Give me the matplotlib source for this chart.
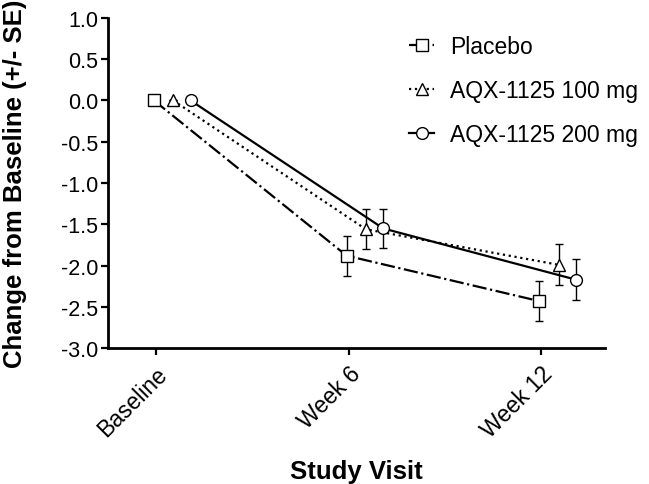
import matplotlib
matplotlib.use("Agg")
import matplotlib.pyplot as plt
import numpy as np

plt.rcParams["font.family"] = ["Liberation Sans", "DejaVu Sans"]

# ── data ───────────────────────────────────────────────────────────────────
visits = ["Baseline", "Week 6", "Week 12"]
groups = ["Placebo", "AQX-1125 100 mg", "AQX-1125 200 mg"]

placebo_mean = [0.0, -1.88, -2.43]
placebo_se = [0.0, 0.24, 0.24]
dose100_mean = [0.0, -1.56, -1.99]
dose100_se = [0.0, 0.24, 0.25]
dose200_mean = [0.0, -1.55, -2.17]
dose200_se = [0.0, 0.24, 0.25]

means = [placebo_mean, dose100_mean, dose200_mean]
ses = [placebo_se, dose100_se, dose200_se]

# ── style ──────────────────────────────────────────────────────────────────
INK = "black"
offsets = [-0.01, 0.09, 0.18]
markers = ["s", "^", "o"]
linestyles = ["-.", ":", "-"]
msizes = [8, 8, 8.5]

fig = plt.figure(figsize=(6.49, 4.85), dpi=100)
ax = fig.add_axes([0.166, 0.280, 0.766, 0.681])

x = np.arange(len(visits))
for i, name in enumerate(groups):
    ax.errorbar(x + offsets[i], means[i], yerr=ses[i],
                color=INK, linestyle=linestyles[i], linewidth=1.6,
                marker=markers[i], markersize=msizes[i],
                markerfacecolor="white", markeredgecolor=INK,
                markeredgewidth=1.0, ecolor=INK, elinewidth=1.0,
                capsize=3, capthick=1.0, label=name)

ax.set_xlim(-0.25, 2.33)
ax.set_ylim(-3.0, 1.0)
yt = np.arange(-3.0, 1.01, 0.5)
ax.set_yticks(yt)
ax.set_yticklabels([f"{v:.1f}" for v in yt])
ax.set_xticks(x)
ax.set_xticklabels(visits, rotation=45, ha="right", rotation_mode="anchor")

ax.spines[["top", "right"]].set_visible(False)
for s in ["left", "bottom"]:
    ax.spines[s].set_linewidth(2.0)
ax.tick_params(axis="both", width=1.6, length=5, colors=INK)
ax.tick_params(axis="y", labelsize=15.5, pad=2)
ax.tick_params(axis="x", labelsize=16.5, pad=5)

ax.set_ylabel("Change from Baseline (+/- SE)", fontsize=18.5,
              fontweight="bold", labelpad=24)
ax.set_xlabel("Study Visit", fontsize=18.5, fontweight="bold", labelpad=12)

handles, labels = ax.get_legend_handles_labels()
handles = [h[0] for h in handles]
ax.legend(handles, labels, loc="upper left", bbox_to_anchor=(0.565, 1.012),
          frameon=False, fontsize=16.5, handlelength=1.1, handletextpad=0.7,
          labelspacing=0.93)

fig.savefig("out.png", dpi=100, facecolor="white")
